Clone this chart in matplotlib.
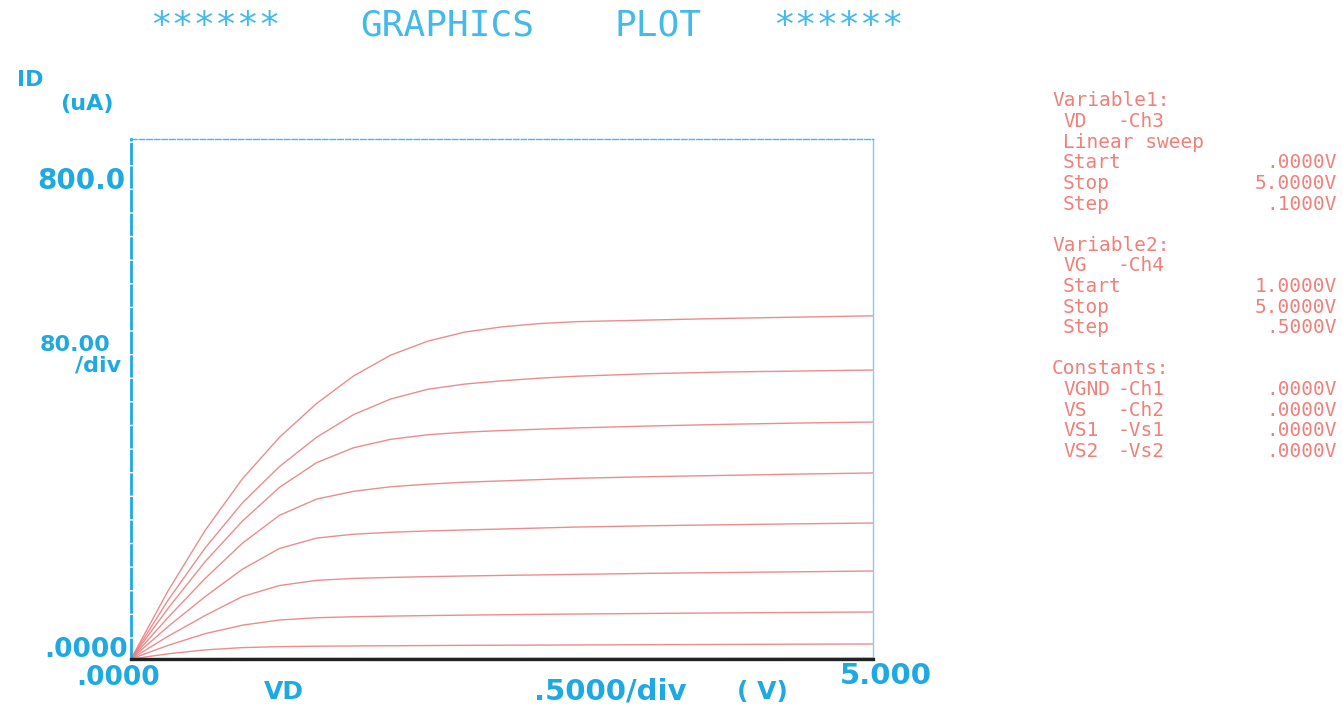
import matplotlib
matplotlib.use("Agg")
import matplotlib.pyplot as plt

W, H = 1342, 715

# Drain voltages (V) at which the curves were read
vd = [0.0, 0.25, 0.5, 0.75, 1.0, 1.25, 1.5, 1.75, 2.0, 2.25, 2.5, 2.75, 3.0,
      3.5, 4.0, 4.5, 5.0]

# Gate voltages of the family (V)
vg_values = [1.0, 1.5, 2.0, 2.5, 3.0, 3.5, 4.0, 4.5, 5.0]

# Drain current (uA) for each gate voltage
id_vg1p0 = [0.0, 0.4, 0.7, 0.9, 1.0, 1.0, 1.0, 1.1, 1.1, 1.1, 1.1, 1.2, 1.2,
            1.2, 1.2, 1.3, 1.3]
id_vg1p5 = [0.0, 8.0, 14.0, 17.5, 19.0, 19.7, 20.1, 20.4, 20.7, 21.0, 21.2, 21.4, 21.6,
            22.0, 22.4, 22.8, 23.1]
id_vg2p0 = [0.0, 21.0, 39.0, 52.0, 60.0, 63.5, 65.0, 66.0, 66.8, 67.5, 68.1, 68.7, 69.2,
            70.1, 70.9, 71.6, 72.3]
id_vg2p5 = [0.0, 35.0, 67.0, 96.0, 113.0, 121.0, 124.0, 125.5, 126.7, 127.7, 128.6, 129.4, 130.2,
            131.8, 133.0, 134.2, 135.4]
id_vg3p0 = [0.0, 50.0, 96.0, 138.0, 170.0, 186.0, 192.0, 195.0, 197.0, 198.5, 200.0, 201.5, 203.0,
            205.0, 206.5, 208.0, 209.2]
id_vg3p5 = [0.0, 64.0, 124.0, 178.0, 221.0, 246.0, 258.0, 265.0, 269.0, 272.0, 274.0, 276.0, 278.0,
            280.5, 282.5, 284.5, 286.2]
id_vg4p0 = [0.0, 78.0, 150.0, 212.0, 264.0, 302.0, 325.0, 338.0, 345.0, 349.0, 351.5, 353.5, 355.5,
            358.5, 361.0, 363.0, 364.6]
id_vg4p5 = [0.0, 90.6, 171.0, 240.0, 296.0, 341.0, 376.0, 400.0, 415.0, 423.0, 428.0, 432.0, 435.0,
            439.0, 441.5, 443.0, 444.6]
id_vg5p0 = [0.0, 105.0, 198.0, 277.0, 341.0, 393.0, 435.5, 467.5, 489.0, 503.0, 511.0, 516.0, 519.0,
            521.5, 524.0, 526.0, 528.0]

curves = [id_vg1p0, id_vg1p5, id_vg2p0, id_vg2p5, id_vg3p0,
          id_vg3p5, id_vg4p0, id_vg4p5, id_vg5p0]

# Axis scale labels
y_top_label = "800.0"
y_div_label = ["80.00", "/div"]
y_bottom_label = ".0000"
x_left_label = ".0000"
x_right_label = "5.000"

# Measurement setup listing: (label, channel, value, indent)
setup_lines = [
    ("Variable1:", None, None, 0),
    ("VD", "-Ch3", None, 1),
    ("Linear sweep", None, None, 1),
    ("Start", None, ".0000V", 1),
    ("Stop", None, "5.0000V", 1),
    ("Step", None, ".1000V", 1),
    (None, None, None, 0),
    ("Variable2:", None, None, 0),
    ("VG", "-Ch4", None, 1),
    ("Start", None, "1.0000V", 1),
    ("Stop", None, "5.0000V", 1),
    ("Step", None, ".5000V", 1),
    (None, None, None, 0),
    ("Constants:", None, None, 0),
    ("VGND", "-Ch1", ".0000V", 1),
    ("VS", "-Ch2", ".0000V", 1),
    ("VS1", "-Vs1", ".0000V", 1),
    ("VS2", "-Vs2", ".0000V", 1),
]

CYAN = "#1fa9e3"
CYAN_LIGHT = "#45b9ea"
RED_TXT = "#ef807a"
RED_CURVE = "#ea8080"


def fpos(x, y):
    return x / W, 1 - y / H


fig = plt.figure(figsize=(W / 100, H / 100), dpi=100)
fig.patch.set_facecolor("white")

ax_l, ax_r, ax_t, ax_b = 131, 873, 139, 659
ax = fig.add_axes([ax_l / W, 1 - ax_b / H, (ax_r - ax_l) / W, (ax_b - ax_t) / H])
ax.set_xlim(0, 5)
ax.set_ylim(0, 800)
ax.set_xticks([])
ax.set_yticks([])

for vals in curves:
    ax.plot(vd, vals, color=RED_CURVE, lw=1.0, alpha=0.9, solid_joinstyle="round")

ax.spines["left"].set_color(CYAN)
ax.spines["left"].set_linewidth(2.0)
ax.spines["left"].set_linestyle((0, (7, 1.5)))
ax.spines["top"].set_color(CYAN_LIGHT)
ax.spines["top"].set_linewidth(1.0)
ax.spines["top"].set_linestyle((0, (4, 1.5)))
ax.spines["right"].set_color("#7fd0ee")
ax.spines["right"].set_linewidth(1.0)
ax.spines["bottom"].set_color("#222222")
ax.spines["bottom"].set_linewidth(2.4)
ax.spines["bottom"].set_linestyle((0, (9, 1)))

# Title
mono = "DejaVu Sans Mono"
for txt, cx in [("******", 215), ("GRAPHICS", 447), ("PLOT", 658), ("******", 838)]:
    fig.text(*fpos(cx, 26), txt, family=mono, fontsize=26, color=CYAN_LIGHT,
             ha="center", va="center")

bold = dict(family="DejaVu Sans", fontweight="bold", color=CYAN)

# Y-axis title and scale
fig.text(*fpos(30, 80), "ID", fontsize=16, ha="center", va="center", **bold)
fig.text(*fpos(87, 104), "(uA)", fontsize=16, ha="center", va="center", **bold)
fig.text(*fpos(125, 181), y_top_label, fontsize=20, ha="right", va="center", **bold)
fig.text(*fpos(110, 355), y_div_label[0], fontsize=16, ha="right", va="bottom", **bold)
fig.text(*fpos(121, 356), y_div_label[1], fontsize=16, ha="right", va="top", **bold)
fig.text(*fpos(128, 663), y_bottom_label, fontsize=19, ha="right", va="bottom", **bold)

# X-axis scale and title
fig.text(*fpos(118, 665), x_left_label, fontsize=19, ha="center", va="top", **bold)
fig.text(*fpos(886, 676), x_right_label, fontsize=21, ha="center", va="center", **bold)
fig.text(*fpos(284, 692), "VD", fontsize=18, ha="center", va="center", **bold)
fig.text(*fpos(610, 692), ".5000/div", fontsize=21, ha="center", va="center", **bold)
fig.text(*fpos(762, 692), "( V)", fontsize=18, ha="center", va="center", **bold)

# Setup listing on the right
y0, dy = 101, 20.6
txt_kw = dict(family=mono, fontsize=14, color=RED_TXT, va="center")
for i, (label, chan, value, indent) in enumerate(setup_lines):
    y = y0 + i * dy
    if label:
        x = 1052 if indent == 0 else 1063
        fig.text(*fpos(x, y), label, ha="left", **txt_kw)
    if chan:
        fig.text(*fpos(1118, y), chan, ha="left", **txt_kw)
    if value:
        fig.text(*fpos(1337, y), value, ha="right", **txt_kw)

fig.savefig("out.png", dpi=100, facecolor="white")
